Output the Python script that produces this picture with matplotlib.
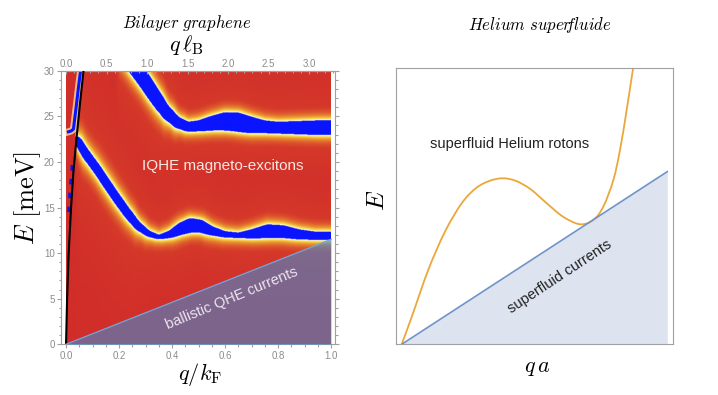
import numpy as np
import matplotlib
matplotlib.use("Agg")
import matplotlib.pyplot as plt
from matplotlib.colors import LinearSegmentedColormap
from matplotlib.ticker import MultipleLocator
from matplotlib.path import Path
from matplotlib.patches import PathPatch

plt.rcParams["mathtext.fontset"] = "cm"
plt.rcParams["font.family"] = ["Liberation Sans", "DejaVu Sans"]

# ---- bilayer graphene ----
# lower magneto-exciton band: q/kF, centre E [meV], half width [meV]
band1_q = [0.035, 0.05, 0.07, 0.09, 0.12, 0.15, 0.19, 0.23, 0.27, 0.31, 0.35, 0.39,
           0.43, 0.47, 0.51, 0.55, 0.60, 0.65, 0.70, 0.76, 0.82, 0.88, 0.94, 1.00]
band1_E = [22.3, 21.9, 21.0, 20.2, 19.0, 17.7, 16.0, 14.4, 13.0, 12.1, 11.7, 12.0,
           12.6, 13.0, 12.9, 12.4, 12.0, 11.9, 12.05, 12.35, 12.3, 12.0, 11.85, 11.85]
band1_w = [0.45, 0.5, 0.5, 0.5, 0.5, 0.5, 0.5, 0.5, 0.45, 0.35, 0.25, 0.4,
           0.65, 0.8, 0.7, 0.5, 0.35, 0.3, 0.5, 0.75, 0.7, 0.55, 0.45, 0.45]
# upper magneto-exciton band
band2_q = [0.19, 0.25, 0.295, 0.34, 0.38, 0.42, 0.46, 0.50, 0.55, 0.60, 0.65,
           0.70, 0.75, 0.80, 0.85, 0.90, 0.95, 1.00]
band2_E = [33.2, 30.7, 28.9, 27.0, 25.4, 24.3, 23.8, 23.9, 24.2, 24.4, 24.3,
           24.0, 23.8, 23.7, 23.7, 23.7, 23.7, 23.7]
band2_w = [0.8, 0.8, 0.8, 0.75, 0.65, 0.6, 0.55, 0.6, 0.8, 1.0, 1.05,
           0.9, 0.7, 0.65, 0.7, 0.75, 0.8, 0.8]
# thin mode next to the black line, and the dashed bit below it
mode0_q = [0.009, 0.02, 0.028, 0.033, 0.039, 0.047, 0.055]
mode0_E = [23.3, 23.4, 23.6, 24.8, 26.2, 28.2, 30.0]
dash_q = [0.009, 0.016, 0.024]
dash_E = [14.5, 17.3, 20.0]
# black (sound-like) line
sound_q = [0.0, 0.004, 0.010, 0.019, 0.028, 0.041, 0.053, 0.066]
sound_E = [0.0, 5.0, 10.0, 15.0, 19.0, 23.0, 26.5, 30.0]
# ballistic QHE continuum edge
qhe_q = [0.0, 1.0]
qhe_E = [0.0, 11.5]
qlB_per_qkF = 3.27

bottom_ticks = [0.0, 0.2, 0.4, 0.6, 0.8, 1.0]
left_ticks = [0, 5, 10, 15, 20, 25, 30]
top_ticks = [0.0, 0.5, 1.0, 1.5, 2.0, 2.5, 3.0]

# ---- helium superfluid ----
roton_q = [0.0, 0.038, 0.100, 0.163, 0.226, 0.280, 0.330, 0.380, 0.430, 0.485,
           0.546, 0.608, 0.671, 0.721, 0.759, 0.797, 0.822, 0.847, 0.872]
roton_E = [0.0, 0.104, 0.280, 0.424, 0.531, 0.588, 0.615, 0.625, 0.615, 0.584,
           0.531, 0.480, 0.452, 0.468, 0.518, 0.619, 0.732, 0.882, 1.045]
sf_q = [0.0, 1.0]
sf_E = [0.0, 0.65]

W, H = 718, 395
fig = plt.figure(figsize=(W / 100, H / 100), dpi=100)


def px(x, y):
    return x / W, 1 - y / H


def smooth_path(xs, ys):
    # Catmull-Rom through the read points, drawn as cubic Bezier pieces
    p = np.column_stack([xs, ys]).astype(float)
    p = np.vstack([p[0], p, p[-1]])
    verts = [p[1]]
    codes = [Path.MOVETO]
    for i in range(1, len(p) - 2):
        c1 = p[i] + (p[i + 1] - p[i - 1]) / 6
        c2 = p[i + 1] - (p[i + 2] - p[i]) / 6
        verts += [c1, c2, p[i + 1]]
        codes += [Path.CURVE4] * 3
    return Path(verts, codes)


# ================= left panel =================
ax = fig.add_axes([61 / W, 1 - 344.3 / H, 274 / W, 273.6 / H])

qg = np.linspace(0, 1, 700)
Eg = np.linspace(0, 30, 600)
Q, EE = np.meshgrid(qg, Eg)
level = np.zeros_like(Q)
is_blue = np.zeros(Q.shape, bool)
scale = 9.12 / 265.0  # px per meV / px per unit q
kernel = np.ones(15) / 15
for bq, bE, bw in [(band1_q, band1_E, band1_w), (band2_q, band2_E, band2_w)]:
    c = np.interp(qg, bq, bE)
    c = np.convolve(np.pad(c, 7, mode="edge"), kernel, mode="valid")
    w = np.interp(qg, bq, bw)
    s = np.gradient(c, qg) * scale
    d = np.abs(EE - c) / np.sqrt(1 + s ** 2) - w
    d[:, (qg < bq[0]) | (qg > bq[-1])] = np.inf
    is_blue |= d < 0
    dd = np.clip(d, 0, None)
    glow = np.maximum(0.9 * np.exp(-dd / 0.95), 0.28 * np.exp(-dd / 3.5))
    level = np.maximum(level, glow)
level[is_blue] = 1.0

cmap = LinearSegmentedColormap.from_list("heat", [
    (0.0, "#d12d29"), (0.2, "#d53a2a"), (0.35, "#dd582c"), (0.55, "#ea9432"),
    (0.7, "#f5d046"), (0.82, "#fdf39a"), (0.9, "#ffffff"), (0.905, "#0a14ff"),
    (1.0, "#0a14ff")])
ax.imshow(level, origin="lower", extent=(0, 1, 0, 30), aspect="auto",
          cmap=cmap, vmin=0, vmax=1, interpolation="bilinear", zorder=0)

ax.plot(mode0_q, mode0_E, color="#fff6b0", lw=5, alpha=0.7, zorder=1)
ax.plot(mode0_q, mode0_E, color="#0a14ff", lw=2.2, zorder=2)
ax.plot(dash_q, dash_E, color="#0a14ff", lw=2.0, ls=(0, (2, 3)), zorder=2)
ax.plot(sound_q, sound_E, color="black", lw=1.5, zorder=3)

ax.fill_between(qhe_q, 0, qhe_E, color="#4589ce", alpha=0.6, lw=0, zorder=4)
ax.plot(qhe_q, qhe_E, color="#6fa3dc", lw=1.0, zorder=5)

ax.text(0.59, 19.5, "IQHE magneto-excitons", color="#f8e8e2", fontsize=11,
        ha="center", va="center", zorder=6)
ax.text(0.627, 5.0, "ballistic QHE currents", color="#ece4f2", fontsize=10.5,
        ha="center", va="center", rotation=22.5, zorder=6)

ax.set_xlim(-0.019, 1.015)
ax.set_ylim(0, 30)
ax.set_xticks(bottom_ticks)
ax.set_xticklabels([f"{t:.1f}" for t in bottom_ticks])
ax.set_yticks(left_ticks)
ax.xaxis.set_minor_locator(MultipleLocator(0.05))
ax.yaxis.set_minor_locator(MultipleLocator(1))
ax.tick_params(which="both", direction="out", color="#a0a0a0", width=0.8,
               labelcolor="#8c8c8c", labelsize=7, right=True, pad=1.5)
ax.tick_params(which="major", length=3)
ax.tick_params(which="minor", length=1.8)

top = ax.secondary_xaxis("top", functions=(lambda x: x * qlB_per_qkF,
                                           lambda x: x / qlB_per_qkF))
top.set_xticks(top_ticks)
top.set_xticklabels([f"{t:.1f}" for t in top_ticks])
top.xaxis.set_minor_locator(MultipleLocator(0.1))
top.tick_params(which="both", direction="in", color="#a0a0a0", width=0.8,
                labelcolor="#8c8c8c", labelsize=7, pad=1.5)
top.tick_params(which="major", length=2.5)
top.tick_params(which="minor", length=1.5)
top.spines["top"].set_color("#a0a0a0")
for sp in ax.spines.values():
    sp.set_color("#a0a0a0")
    sp.set_linewidth(0.8)

fig.text(*px(187, 23), r"$\mathit{Bilayer\ graphene}$", fontsize=12,
         ha="center", va="center")
fig.text(*px(186, 45), r"$q\,\ell_{\rm B}$", fontsize=16, ha="center", va="center")
fig.text(*px(200, 375), r"$q/k_{\rm F}$", fontsize=16, ha="center", va="center")
fig.text(*px(28, 198), r"$E\ [{\rm meV}]$", fontsize=19, ha="center",
         va="center", rotation=90)

# ================= right panel =================
ax2 = fig.add_axes([396 / W, 1 - 344.3 / H, 277.3 / W, 276 / H])
ax2.fill_between(sf_q, 0, sf_E, color="#dde3ef", lw=0)
ax2.plot(sf_q, sf_E, color="#6f93c8", lw=1.2)
ax2.add_patch(PathPatch(smooth_path(roton_q, roton_E), fill=False,
                        edgecolor="#eba73a", lw=1.3))
ax2.text(0.405, 0.753, "superfluid Helium rotons", color="#222222", fontsize=10.5,
         ha="center", va="center")
ax2.text(0.595, 0.253, "superfluid currents", color="#222222", fontsize=10.5,
         ha="center", va="center", rotation=33.5)
ax2.set_xlim(-0.0215, 1.0226)
ax2.set_ylim(0, 1.039)
ax2.set_xticks([])
ax2.set_yticks([])
for sp in ax2.spines.values():
    sp.set_color("#a0a0a0")
    sp.set_linewidth(0.8)

fig.text(*px(540, 25), r"$\mathit{Helium\ super\!\!fluide}$", fontsize=12,
         ha="center", va="center")
fig.text(*px(377, 200), r"$E$", fontsize=18, ha="center", va="center", rotation=90)
fig.text(*px(537, 368), r"$q\,a$", fontsize=16, ha="center", va="center")

fig.savefig("out.png", dpi=100)
